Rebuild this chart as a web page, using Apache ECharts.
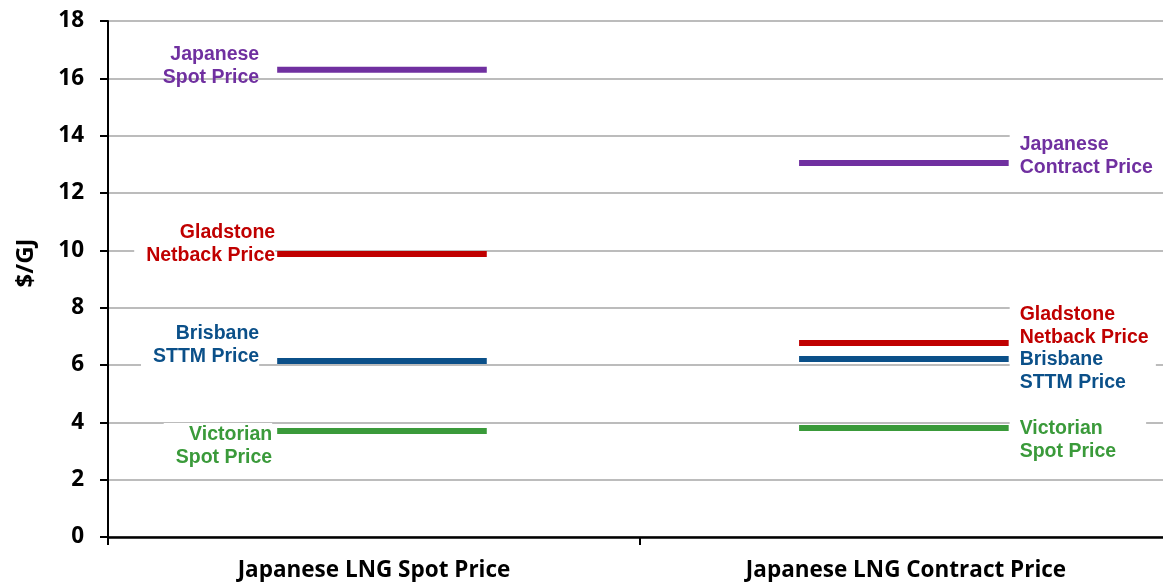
<!DOCTYPE html>
<html>
<head>
<meta charset="utf-8">
<script src="https://cdn.jsdelivr.net/npm/echarts@6/dist/echarts.min.js"></script>
<style>
  html, body { margin: 0; padding: 0; background: #ffffff; }
  #chart { width: 1163px; height: 582px; }
</style>
</head>
<body>
<div id="chart"></div>
<script>
// Categories on the x axis
const categories = ['Japanese LNG Spot Price', 'Japanese LNG Contract Price'];

// Price levels ($/GJ) under each Japanese LNG benchmark
const japanesePrice  = [16.3, 13.05];
const gladstonePrice = [9.87, 6.77];
const brisbanePrice  = [6.14, 6.21];
const victorianPrice = [3.70, 3.80];

// Label text for each price, per category
const japaneseLabels  = ['Japanese\nSpot Price', 'Japanese\nContract Price'];
const gladstoneLabels = ['Gladstone\nNetback Price', 'Gladstone\nNetback Price'];
const brisbaneLabels  = ['Brisbane\nSTTM Price', 'Brisbane\nSTTM Price'];
const victorianLabels = ['Victorian\nSpot Price', 'Victorian\nSpot Price'];

// Y axis ticks
const yMin = 0, yMax = 18, yStep = 2;

// Drawing style for each price line: colour, label nudges per category
// (dx = gap from the line end, dy = vertical shift) and whether the label box is filled white
const styles = {
  japanese:  { color: '#7030A0', dx: [18, 1], dy: [-4, -7],   box: [false, true] },
  gladstone: { color: '#C00000', dx: [2, 1],  dy: [-10, -17], box: [true, true] },
  brisbane:  { color: '#0B5089', dx: [18, 1], dy: [-16, 12],  box: [true, true] },
  victorian: { color: '#3A9A3A', dx: [5, 1],  dy: [15, 12],   box: [true, true] }
};
// Horizontal placement of the line segments inside each category band (fractions of the band)
const segShift = [0.015, -0.004];
const segHalf = 0.197;

function makeSeries(name, values, labels, st) {
  return {
    name: name,
    type: 'custom',
    data: values.map((v, i) => [i, v]),
    renderItem: function (params, api) {
      const cat = api.value(0);
      const pt = api.coord([cat, api.value(1)]);
      const band = api.size([1, 0])[0];
      const cx = pt[0] + band * segShift[cat];
      const half = band * segHalf;
      const x1 = cx - half, x2 = cx + half;
      const onLeft = cat === 0;
      return {
        type: 'group',
        children: [
          {
            type: 'line',
            shape: { x1: x1, y1: pt[1], x2: x2, y2: pt[1] },
            style: { stroke: st.color, lineWidth: 6 }
          },
          {
            type: 'text',
            x: onLeft ? x1 - st.dx[cat] : x2 + st.dx[cat],
            y: pt[1] + st.dy[cat],
            style: {
              text: labels[cat],
              fill: st.color,
              font: 'bold 19.5px "Liberation Sans", Arial, sans-serif',
              lineHeight: 23,
              align: onLeft ? 'right' : 'left',
              verticalAlign: 'middle',
              backgroundColor: st.box[cat] ? '#ffffff' : null,
              padding: onLeft ? [0, 0, 0, 12] : [0, 30, 0, 10]
            }
          }
        ]
      };
    }
  };
}

const chart = echarts.init(document.getElementById('chart'), null, { renderer: 'canvas' });

chart.setOption({
  animation: false,
  backgroundColor: '#ffffff',
  grid: {
    left: 108, top: 21, height: 516, width: 1064,
    containLabel: false,
    outerBoundsMode: 'none'
  },
  xAxis: {
    type: 'category',
    data: categories,
    boundaryGap: true,
    axisLine: { lineStyle: { color: '#000000', width: 2.5 } },
    axisTick: { show: true, length: 8, lineStyle: { color: '#000000', width: 2 } },
    axisLabel: {
      margin: 22,
      color: '#000000',
      fontFamily: '"Open Sans", sans-serif',
      fontWeight: 'bold',
      fontSize: 22.5
    },
    splitLine: { show: false }
  },
  yAxis: {
    type: 'value',
    min: yMin,
    max: yMax,
    interval: yStep,
    name: '$/GJ',
    nameLocation: 'middle',
    nameRotate: 90,
    nameGap: 70,
    nameTextStyle: {
      color: '#000000',
      fontFamily: '"Open Sans", sans-serif',
      fontWeight: 'bold',
      fontSize: 24,
      padding: [0, 0, 0, 32]
    },
    axisLine: { show: true, lineStyle: { color: '#000000', width: 2 } },
    axisTick: { show: true, length: 8, lineStyle: { color: '#000000', width: 2 } },
    axisLabel: {
      margin: 24,
      color: '#000000',
      fontFamily: '"Open Sans", sans-serif',
      fontWeight: 'bold',
      fontSize: 22.5
    },
    splitLine: { show: true, lineStyle: { color: '#A6A6A6', width: 1.5 } }
  },
  series: [
    makeSeries('Japanese Price', japanesePrice, japaneseLabels, styles.japanese),
    makeSeries('Gladstone Netback Price', gladstonePrice, gladstoneLabels, styles.gladstone),
    makeSeries('Brisbane STTM Price', brisbanePrice, brisbaneLabels, styles.brisbane),
    makeSeries('Victorian Spot Price', victorianPrice, victorianLabels, styles.victorian)
  ]
});
</script>
</body>
</html>
